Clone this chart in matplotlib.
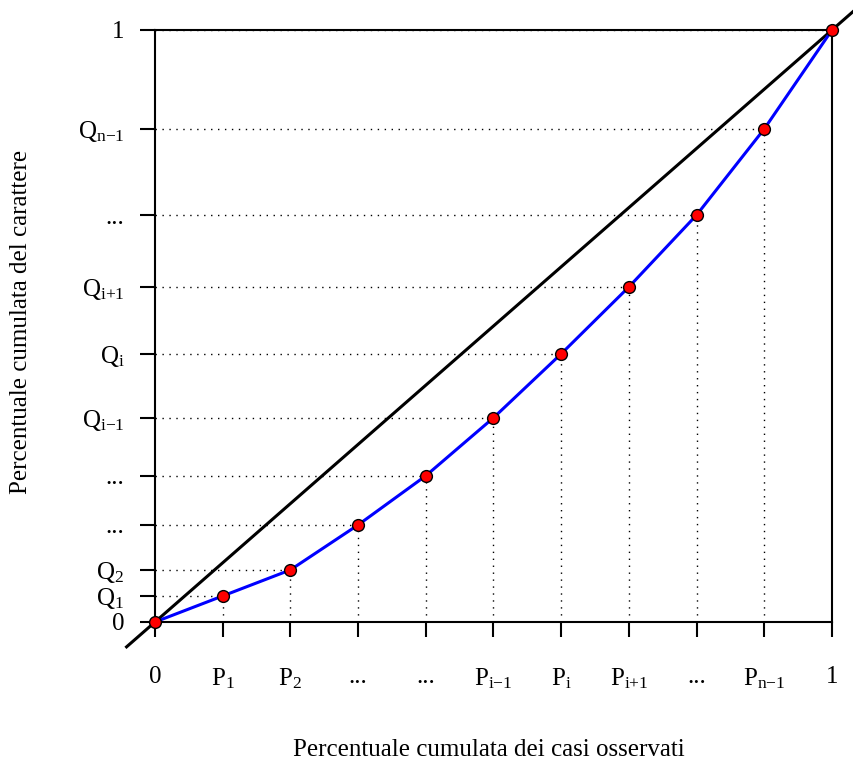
import matplotlib
matplotlib.use("Agg")
import matplotlib.pyplot as plt

plt.rcParams['font.family'] = ['Liberation Serif', 'DejaVu Serif']
plt.rcParams['mathtext.fontset'] = 'custom'
plt.rcParams['mathtext.rm'] = 'Liberation Serif'
plt.rcParams['mathtext.it'] = 'Liberation Serif:italic'

# cumulative shares (Lorenz curve)
p = [0, 0.1, 0.2, 0.3, 0.4, 0.5, 0.6, 0.7, 0.8, 0.9, 1]
q = [0, 0.044, 0.088, 0.164, 0.247, 0.345, 0.453, 0.566, 0.6875, 0.833, 1]

x_labels = ['0', r'$\mathrm{P_1}$', r'$\mathrm{P_2}$', '...', '...',
            r'$\mathrm{P_{i{-}1}}$', r'$\mathrm{P_i}$', r'$\mathrm{P_{i{+}1}}$',
            '...', r'$\mathrm{P_{n{-}1}}$', '1']
y_labels = ['0', r'$\mathrm{Q_1}$', r'$\mathrm{Q_2}$', '...', '...',
            r'$\mathrm{Q_{i{-}1}}$', r'$\mathrm{Q_i}$', r'$\mathrm{Q_{i{+}1}}$',
            '...', r'$\mathrm{Q_{n{-}1}}$', '1']

fig = plt.figure(figsize=(8.54, 7.69), dpi=100)
ax = fig.add_axes([155/854, 1 - 622/769, (832-155)/854, (622-30)/769])

# dotted guides
for xi, yi in zip(p, q):
    ax.plot([0, xi], [yi, yi], color='black', linestyle=(0, (1, 4)), linewidth=1)
    ax.plot([xi, xi], [0, yi], color='black', linestyle=(0, (1, 4)), linewidth=1)

# line of equal distribution
ax.plot([-0.042, 1.035], [-0.042, 1.035], color='black', linewidth=2.2,
        clip_on=False, zorder=3)

ax.plot(p, q, color='blue', linewidth=2.2, zorder=4)
ax.plot(p, q, 'o', markerfacecolor='red', markeredgecolor='black',
        markersize=8.5, markeredgewidth=1, clip_on=False, zorder=5)

ax.set_xlim(0, 1)
ax.set_ylim(0, 1)
ax.set_xticks(p)
ax.set_xticklabels(x_labels)
ax.set_yticks(q)
ax.set_yticklabels(y_labels)
ax.tick_params(axis='both', direction='out', length=11, width=1.5, labelsize=18)
ax.tick_params(axis='x', pad=21)
ax.tick_params(axis='y', pad=11)
for s in ax.spines.values():
    s.set_linewidth(1.5)

fig.text(489/854, 1 - 750/769, 'Percentuale cumulata dei casi osservati',
         ha='center', va='center', fontsize=18)
fig.text(21/854, 1 - 322/769, 'Percentuale cumulata del carattere',
         ha='center', va='center', rotation=90, fontsize=18)

fig.savefig('out.png', dpi=100)
